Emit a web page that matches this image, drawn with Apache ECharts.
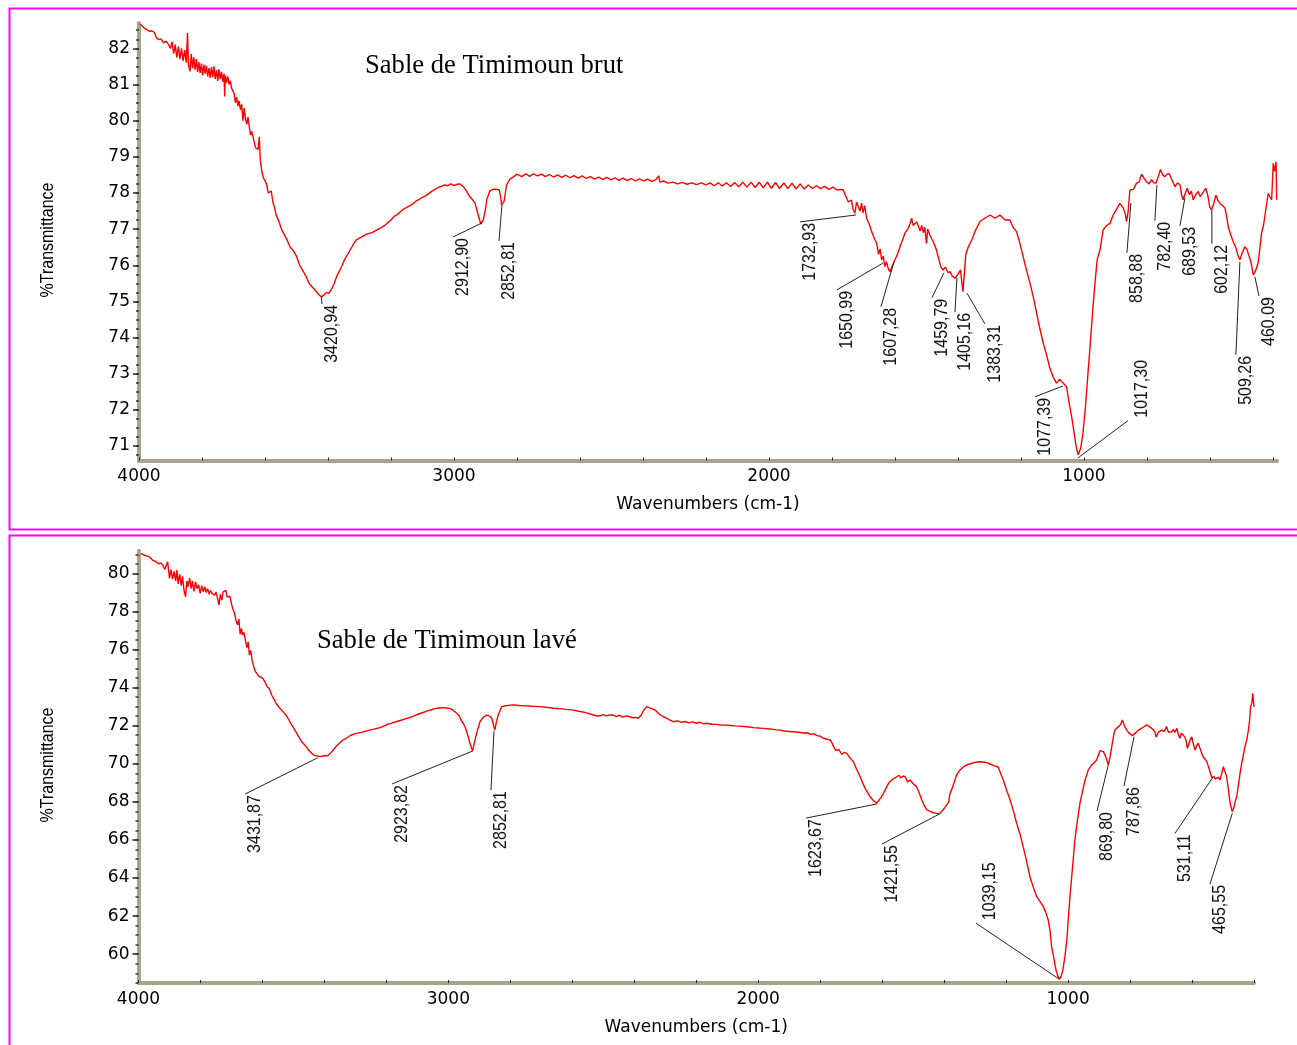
<!DOCTYPE html>
<html>
<head>
<meta charset="utf-8">
<script src="https://cdn.jsdelivr.net/npm/echarts@6/dist/echarts.min.js"></script>
<style>
html,body{margin:0;padding:0;background:#fff;}
#chart{width:1297px;height:1045px;}
</style>
</head>
<body>
<div id="chart"></div>
<script>
// ---------------- DATA ----------------
const xTickLabels = [1000, 2000, 3000, 4000];
const yTickLabelsTop = [71, 72, 73, 74, 75, 76, 77, 78, 79, 80, 81, 82];
const yTickLabelsBottom = [60, 62, 64, 66, 68, 70, 72, 74, 76, 78, 80];

// Sable de Timimoun brut : [wavenumber, %T]
const topSpectrum = [
[3997,82.67],[3990,82.62],[3982,82.55],[3975,82.52],[3968,82.47],[3960,82.48],[3952,82.45],[3945,82.30],[3938,82.24],[3930,82.26],[3922,82.15],[3914,82.20],[3906,82.10],[3900,82.00],
[3895,82.18],[3890,81.85],[3885,82.10],[3880,81.75],[3875,82.05],[3870,81.70],[3865,82.00],[3860,81.65],[3855,81.95],[3850,81.60],[3846,82.42],[3843,81.55],[3838,81.36],[3834,81.85],[3830,81.45],[3826,81.75],[3822,81.40],[3818,81.70],[3814,81.35],[3810,81.62],[3806,81.32],[3802,81.58],[3798,81.25],[3794,81.55],[3790,81.30],[3786,81.52],[3782,81.22],[3778,81.45],[3774,81.18],[3770,81.48],[3766,81.20],[3762,81.50],[3758,81.15],[3754,81.40],[3750,81.10],[3746,81.42],[3742,81.15],[3738,81.35],[3734,81.08],[3730,81.30],[3728,80.67],[3726,81.25],[3722,81.05],[3718,81.22],[3714,81.00],[3710,81.10],[3706,80.90],[3702,80.95],[3698,80.75],[3694,80.50],[3690,80.65],[3686,80.40],[3682,80.55],[3678,80.30],[3674,80.45],[3670,80.00],[3666,80.35],[3662,80.05],[3658,79.90],[3654,80.10],[3650,79.85],[3646,79.60],[3642,79.70],[3638,79.55],[3634,79.40],[3630,79.25],[3626,79.30],[3622,79.20],[3618,79.55],[3615,78.90],[3610,78.60],[3605,78.42],[3600,78.45],[3595,78.25],[3590,78.00],[3585,77.95],[3580,78.05],[3575,77.75],[3570,77.60],[3565,77.40],[3560,77.42],[3555,77.20],[3550,77.05],[3545,76.95],[3540,76.90],[3530,76.70],[3520,76.50],[3510,76.40],[3500,76.25],[3490,76.00],[3480,75.85],[3470,75.70],[3460,75.50],[3450,75.40],[3440,75.30],[3430,75.20],[3421,75.12],[3412,75.18],[3405,75.25],[3398,75.22],[3389,75.33],[3380,75.50],[3372,75.70],[3363,75.85],[3355,76.00],[3345,76.20],[3336,76.32],[3328,76.45],[3318,76.60],[3310,76.70],[3300,76.75],[3290,76.80],[3280,76.85],[3270,76.88],[3260,76.90],[3250,76.95],[3240,77.00],[3230,77.05],[3220,77.10],[3210,77.18],[3200,77.25],[3190,77.35],[3180,77.40],[3170,77.48],[3160,77.55],[3150,77.60],[3140,77.65],[3130,77.70],[3120,77.78],[3110,77.82],[3100,77.88],[3090,77.92],[3080,77.98],[3070,78.05],[3060,78.10],[3050,78.15],[3040,78.18],[3030,78.22],[3020,78.20],[3010,78.25],[3000,78.20],[2990,78.24],[2980,78.25],[2970,78.17],[2960,78.05],[2950,77.90],[2940,77.80],[2933,77.71],[2923,77.39],[2915,77.14],[2907,77.25],[2900,77.55],[2896,77.81],[2886,78.06],[2875,78.10],[2864,78.10],[2856,78.08],[2851,77.85],[2849,77.67],[2845,77.70],[2841,77.76],[2833,78.22],[2822,78.38],[2810,78.45],[2800,78.52],
[2796,78.52],[2785,78.45],[2772,78.53],[2760,78.46],[2748,78.53],[2735,78.47],[2722,78.52],[2710,78.45],[2697,78.51],[2684,78.44],[2671,78.50],[2658,78.43],[2645,78.49],[2632,78.42],[2619,78.48],[2606,78.41],[2593,78.47],[2580,78.40],[2567,78.45],[2554,78.38],[2541,78.44],[2528,78.37],[2515,78.43],[2502,78.36],[2489,78.42],[2476,78.35],[2463,78.41],[2450,78.34],[2437,78.40],[2424,78.33],[2411,78.39],[2398,78.33],[2385,78.38],[2372,78.32],[2359,78.37],[2350,78.47],[2346,78.30],[2335,78.33],[2320,78.27],[2305,78.30],[2290,78.25],[2275,78.29],[2260,78.24],[2245,78.28],[2230,78.23],[2215,78.28],[2200,78.22],[2187,78.28],[2174,78.20],[2161,78.28],[2148,78.19],[2135,78.28],[2122,78.18],[2109,78.29],[2096,78.17],[2083,78.30],[2070,78.16],[2057,78.30],[2044,78.15],[2031,78.30],[2018,78.14],[2005,78.30],[1992,78.13],[1979,78.29],[1966,78.12],[1953,78.28],[1940,78.12],[1927,78.27],[1914,78.11],[1901,78.25],[1888,78.11],[1875,78.22],[1862,78.12],[1849,78.20],[1836,78.12],[1823,78.18],[1810,78.10],[1797,78.16],[1784,78.08],[1772,78.10],
[1764,78.08],[1758,77.95],[1753,77.90],[1748,77.75],[1743,77.71],[1738,77.80],[1733,77.55],[1727,77.44],[1722,77.75],[1716,77.71],[1711,77.50],[1706,77.72],[1701,77.45],[1696,77.65],[1690,77.30],[1685,77.30],[1680,77.10],[1674,76.93],[1668,76.80],[1663,76.70],[1658,76.61],[1652,76.30],[1647,76.45],[1642,76.15],[1637,76.25],[1632,75.96],[1627,76.10],[1621,75.90],[1616,75.82],[1610,75.95],[1605,75.95],[1600,76.15],[1592,76.30],[1584,76.51],[1576,76.70],[1568,76.89],[1558,77.02],[1552,77.15],[1547,77.30],[1542,77.10],[1536,77.07],[1531,77.20],[1526,77.16],[1520,76.95],[1515,77.10],[1510,76.90],[1505,77.05],[1500,76.60],[1496,77.00],[1490,76.85],[1484,76.84],[1476,76.60],[1468,76.42],[1460,76.15],[1454,75.95],[1447,75.87],[1440,75.95],[1432,75.80],[1425,75.82],[1418,75.70],[1409,75.64],[1400,75.75],[1392,75.87],[1386,75.82],[1384,75.27],[1380,75.30],[1375,76.30],[1367,76.51],[1356,76.70],[1345,76.95],[1330,77.21],[1315,77.30],[1298,77.39],[1282,77.30],[1267,77.39],[1250,77.25],[1235,77.25],[1225,77.05],[1214,76.93],[1203,76.60],[1193,76.24],[1182,75.85],[1171,75.50],[1160,75.10],[1150,74.67],[1140,74.25],[1129,73.84],[1118,73.50],[1108,73.15],[1097,72.90],[1087,72.74],[1077,72.85],[1071,72.83],[1064,72.72],[1055,72.64],[1047,72.20],[1039,71.81],[1030,71.30],[1024,70.95],[1018,70.76],[1010,70.95],[1003,71.36],[995,72.10],[988,72.92],[980,73.80],[972,74.76],[965,75.50],[958,76.15],[949,76.42],[939,76.98],[928,77.10],[917,77.16],[907,77.39],[896,77.55],[886,77.71],[875,77.58],[868,77.40],[865,77.21],[860,77.45],[854,78.08],[843,78.10],[833,78.27],[825,78.30],[817,78.52],[809,78.40],[801,78.31],[793,78.25],[785,78.37],[778,78.28],[771,78.27],[764,78.45],[757,78.65],[750,78.50],[743,78.45],[736,78.52],[729,78.53],[720,78.35],[711,78.17],[703,78.28],[695,78.22],[690,77.95],[685,77.81],[678,78.00],[672,78.13],[665,77.95],[659,78.05],[653,77.81],[645,77.95],[637,78.04],[631,77.90],[626,77.90],[619,78.05],[613,78.13],[606,77.90],[600,77.60],[595,77.53],[588,77.70],[581,77.94],[575,77.80],[568,77.71],[560,77.65],[552,77.58],[546,77.30],[542,77.07],[534,76.85],[526,76.65],[518,76.50],[512,76.30],[505,76.15],[497,76.35],[489,76.51],[483,76.45],[478,76.42],[470,76.10],[462,75.73],[455,75.85],[447,76.06],[441,76.50],[436,76.89],[430,77.10],[425,77.39],[420,77.70],[415,77.99],[410,77.90],[404,77.81],[399,78.82],[394,78.60],[390,78.86],[388,77.81]
];

// Sable de Timimoun lavé : [wavenumber, %T]
const bottomSpectrum = [
[3992,81.05],[3980,80.95],[3965,80.87],[3955,80.70],[3943,80.61],[3935,80.50],[3928,80.55],[3922,80.44],[3915,80.20],[3910,80.45],[3906,80.61],[3900,79.74],
[3895,80.20],[3890,79.70],[3885,80.10],[3880,79.60],[3876,80.17],[3872,79.45],[3867,79.95],[3862,79.35],[3858,79.85],[3853,79.10],[3848,78.77],[3844,79.60],[3840,79.30],[3835,79.75],[3830,79.20],[3826,79.60],[3821,79.05],[3816,79.56],[3811,79.20],[3806,79.40],[3801,78.95],[3796,79.35],[3791,79.03],[3786,79.30],[3782,79.00],[3777,79.20],[3772,78.90],[3768,79.10],[3763,78.95],[3759,79.05],[3754,78.86],[3750,79.02],[3745,78.70],[3740,78.34],[3736,78.90],[3731,78.60],[3727,79.03],[3723,78.95],[3718,79.10],[3714,78.75],[3710,78.69],[3705,78.80],[3700,78.40],[3696,78.16],[3690,77.90],[3685,77.50],[3680,77.29],[3676,77.60],[3672,76.80],[3668,77.10],[3664,76.76],[3660,76.90],[3655,76.50],[3650,76.10],[3646,76.40],[3642,75.71],[3638,75.95],[3633,75.40],[3628,75.10],[3623,74.85],[3618,74.95],[3612,74.60],[3606,74.55],[3599,74.49],[3592,74.30],[3585,74.05],[3578,73.96],[3570,73.60],[3563,73.40],[3556,73.18],[3548,73.00],[3540,72.85],[3532,72.70],[3524,72.56],[3516,72.35],[3508,72.10],[3500,71.90],[3492,71.68],[3484,71.45],[3475,71.20],[3467,71.05],[3459,70.90],[3450,70.70],[3441,70.55],[3433,70.45],[3427,70.40],[3415,70.38],[3400,70.42],[3389,70.42],[3378,70.60],[3370,70.75],[3363,70.90],[3350,71.10],[3340,71.25],[3330,71.34],[3315,71.50],[3298,71.60],[3280,71.65],[3265,71.72],[3255,71.77],[3240,71.82],[3225,71.88],[3212,71.95],[3200,72.05],[3185,72.12],[3169,72.21],[3150,72.30],[3140,72.36],[3126,72.42],[3110,72.52],[3100,72.60],[3083,72.68],[3070,72.77],[3055,72.84],[3040,72.91],[3030,72.93],[3018,72.95],[3005,72.93],[2995,72.91],[2986,72.83],[2973,72.65],[2965,72.52],[2959,72.30],[2952,72.13],[2944,71.85],[2936,71.42],[2929,71.00],[2922,70.69],[2916,71.10],[2909,71.60],[2898,72.21],[2887,72.45],[2876,72.56],[2866,72.50],[2860,72.39],[2854,72.00],[2850,71.77],[2845,72.20],[2839,72.56],[2828,73.00],[2815,73.05],[2800,73.08],[2790,73.09],[2770,73.06],[2750,73.04],[2730,73.02],[2704,73.00],[2680,72.96],[2660,72.92],[2640,72.90],[2620,72.86],[2597,72.82],[2580,72.76],[2560,72.70],[2540,72.60],[2521,72.51],[2510,72.52],[2500,72.58],[2490,72.52],[2480,72.56],[2468,72.56],[2458,72.48],[2448,72.55],[2438,72.45],[2428,72.52],[2414,72.47],[2405,72.42],[2396,72.44],[2387,72.39],[2378,72.55],[2370,72.80],[2360,73.00],[2352,72.95],[2343,72.90],[2333,72.82],[2322,72.65],[2314,72.55],[2306,72.47],[2296,72.40],[2286,72.30],[2274,72.21],[2260,72.25],[2248,72.18],[2236,72.22],[2224,72.15],[2212,72.20],[2200,72.13],[2188,72.18],[2176,72.10],[2166,72.13],[2150,72.08],[2135,72.07],[2120,72.04],[2105,72.03],[2090,72.01],[2075,71.99],[2059,71.98],[2045,71.96],[2030,71.93],[2015,71.90],[2000,71.88],[1985,71.86],[1970,71.84],[1951,71.81],[1940,71.78],[1930,71.77],[1915,71.72],[1900,71.70],[1885,71.68],[1870,71.66],[1855,71.62],[1843,71.63],[1830,71.55],[1820,71.57],[1810,71.48],[1800,71.45],[1790,71.34],[1780,71.30],[1768,71.25],[1762,71.10],[1755,70.85],[1750,70.70],[1747,70.64],[1740,70.75],[1730,70.50],[1722,70.60],[1714,70.55],[1706,70.35],[1700,70.25],[1693,70.11],[1682,69.70],[1671,69.32],[1663,69.00],[1655,68.71],[1647,68.50],[1639,68.27],[1630,68.10],[1625,68.00],[1618,67.93],[1610,68.10],[1603,68.25],[1596,68.45],[1588,68.70],[1582,68.90],[1575,69.06],[1565,69.20],[1553,69.32],[1545,69.40],[1540,69.25],[1532,69.36],[1525,69.30],[1518,69.05],[1510,69.15],[1500,68.95],[1489,68.80],[1480,68.45],[1472,68.10],[1464,67.80],[1456,67.58],[1445,67.50],[1435,67.43],[1425,67.40],[1416,67.37],[1405,67.55],[1398,67.70],[1392,67.84],[1385,68.00],[1382,68.40],[1376,68.63],[1368,69.00],[1360,69.41],[1350,69.65],[1338,69.85],[1325,69.95],[1311,70.03],[1298,70.08],[1284,70.11],[1270,70.08],[1260,70.05],[1252,69.99],[1240,69.90],[1225,69.82],[1218,69.50],[1209,69.15],[1198,68.60],[1187,68.10],[1176,67.50],[1166,66.88],[1155,66.30],[1145,65.65],[1134,64.90],[1123,64.07],[1112,63.50],[1101,63.02],[1090,62.75],[1080,62.50],[1072,62.20],[1064,61.80],[1058,61.20],[1053,60.40],[1046,59.80],[1039,59.17],[1033,58.85],[1028,58.69],[1022,58.85],[1017,59.17],[1010,59.90],[1004,60.76],[999,61.90],[994,63.02],[986,64.50],[978,66.00],[970,67.00],[961,68.00],[956,68.36],[950,68.80],[945,69.15],[935,69.67],[924,69.94],[916,70.05],[908,70.20],[902,70.45],[897,70.69],[892,70.66],[886,70.64],[878,70.35],[870,69.94],[864,70.40],[859,70.90],[854,71.40],[849,71.77],[843,71.85],[838,71.95],[831,72.05],[825,72.30],[818,72.00],[811,71.77],[805,71.65],[799,71.55],[793,71.48],[787,71.42],[780,71.65],[773,71.77],[765,71.85],[758,71.92],[752,72.00],[746,72.04],[740,71.98],[733,71.90],[726,71.80],[720,71.68],[716,71.40],[714,71.42],[709,71.65],[703,71.55],[698,71.77],[690,71.70],[682,71.95],[676,71.65],[671,71.75],[666,71.68],[660,71.80],[655,71.65],[649,71.86],[644,71.55],[639,71.34],[634,71.60],[628,71.60],[623,71.40],[619,71.20],[615,70.81],[609,71.10],[605,71.30],[601,71.42],[596,71.05],[590,70.72],[585,70.95],[580,71.08],[575,70.85],[570,70.60],[564,70.37],[558,70.30],[552,70.10],[547,70.03],[542,69.60],[536,69.24],[530,69.35],[525,69.20],[520,69.24],[515,69.30],[510,69.15],[504,69.50],[499,69.85],[494,69.60],[488,69.32],[483,68.70],[477,67.93],[472,67.60],[470,67.49],[465,67.70],[461,68.00],[456,68.27],[450,68.90],[445,69.50],[440,70.00],[435,70.40],[429,70.90],[423,71.30],[418,71.77],[414,72.30],[411,72.99],[407,73.20],[404,73.70],[402,73.70],[400,72.99]
];

// Peak annotations: text, peak point [wn, %T], leader-line end [wn, %T], text side ('t' text below end, 'b' text above end)
const topPeakText = ['3420,94','2912,90','2852,81','1732,93','1650,99','1607,28','1459,79','1405,16','1383,31','1077,39','1017,30','858,88','782,40','689,53','602,12','509,26','460.09'];
const topPeakPoint = [[3420.6,75.12],[2911.1,77.17],[2847.6,77.67],[1723.8,77.39],[1638.1,76.06],[1603.2,76.09],[1444.4,75.79],[1403.2,75.65],[1371.4,75.23],[1066.7,72.66],[1019.0,70.67],[850.8,77.72],[768.3,78.22],[679.4,77.86],[593.7,77.53],[504.8,76.09],[457.1,75.68]];
const topLabelEnd = [[3419.0,74.93],[3003.2,76.78],[2857.1,76.67],[1901.6,77.20],[1784.1,75.32],[1644.4,74.85],[1482.5,75.10],[1409.5,74.71],[1314.3,74.38],[1155.6,72.36],[860.3,71.70],[863.5,76.34],[774.6,77.23],[695.2,77.09],[593.7,76.59],[517.5,73.52],[444.4,75.15]];
const topLabelSide = ['t','t','t','t','t','t','t','t','t','t','b','t','t','t','t','t','t'];

const bottomPeakText = ['3431,87','2923,82','2852,81','1623,67','1421,55','1039,15','869,80','787,86','531,11','465,55'];
const bottomPeakPoint = [[3421.4,70.32],[2918.9,70.69],[2852.7,71.72],[1617.6,67.89],[1415.6,67.36],[1028.3,58.69],[870.2,69.94],[787.2,71.42],[536.5,69.20],[470.0,67.40]];
const bottomLabelEnd = [[3656.3,68.41],[3181.9,68.94],[2862.4,68.62],[1845.8,67.15],[1600.5,65.79],[1297.2,61.63],[906.7,67.52],[819.5,68.83],[654.9,66.35],[542.0,63.69]];
const bottomLabelSide = ['t','t','t','t','t','b','t','t','t','t'];

// ---------------- CHART ----------------
const AXIS_COLOR = '#a8a38a';
const TICK_FONT = 'DejaVu Sans';
function range(a, b, step) { const r = []; for (let v = a; v <= b + 1e-9; v += step) r.push(+v.toFixed(4)); return r; }
const xTicks = range(400, 4000, 200);
const yMinorTop = range(70.75, 82.5, 0.25);
const yMinorBottom = range(58.5, 81, 0.5);

function xAxisDef(grid, min) {
  return {
    type: 'value', gridIndex: grid, min: min, max: 4000, inverse: true, position: 'bottom',
    axisLine: { show: true, lineStyle: { color: AXIS_COLOR, width: 4 } },
    axisTick: { show: true, customValues: xTicks, inside: true, length: 3, lineStyle: { color: '#222', width: 1 } },
    axisLabel: { customValues: xTickLabels, formatter: v => String(v), fontFamily: TICK_FONT, fontSize: 17, color: '#000', margin: 8 },
    splitLine: { show: false },
    name: 'Wavenumbers (cm-1)', nameLocation: 'middle', nameGap: 36,
    nameTextStyle: { fontFamily: TICK_FONT, fontSize: 17, color: '#000' }
  };
}
function yAxisMajor(grid, min, max, majors) {
  return {
    type: 'value', gridIndex: grid, min: min, max: max, position: 'left', offset: 0,
    axisLine: { show: true, lineStyle: { color: AXIS_COLOR, width: 4 } },
    axisTick: { show: true, customValues: majors, length: 6, lineStyle: { color: '#222', width: 1.5 } },
    axisLabel: { customValues: majors, formatter: v => String(v), fontFamily: TICK_FONT, fontSize: 17, color: '#000', margin: 9 },
    splitLine: { show: false }
  };
}
function yAxisMinor(grid, min, max, minors) {
  return {
    type: 'value', gridIndex: grid, min: min, max: max, position: 'left', offset: 0,
    axisLine: { show: false },
    axisTick: { show: true, customValues: minors, length: 3, lineStyle: { color: '#333', width: 1.5 } },
    axisLabel: { show: false },
    splitLine: { show: false }
  };
}

function labelRenderer(texts, sides) {
  return function (params, api) {
    const i = params.dataIndex;
    const p = api.coord([api.value(0), api.value(1)]);
    const e = api.coord([api.value(2), api.value(3)]);
    const below = sides[i] === 't';
    return {
      type: 'group',
      children: [
        { type: 'line', shape: { x1: p[0], y1: p[1], x2: e[0], y2: e[1] }, style: { stroke: '#222', lineWidth: 1 } },
        { type: 'text', x: below ? e[0] + 1 : e[0] + 5, y: below ? e[1] + 1 : e[1] - 3,
          rotation: Math.PI / 2, scaleY: 1.15,
          style: { text: texts[i], font: '16px "Liberation Sans", Arial, sans-serif', fill: '#111',
                   align: below ? 'right' : 'left', verticalAlign: 'top' } }
      ]
    };
  };
}

const chart = echarts.init(document.getElementById('chart'), null, { renderer: 'canvas' });
chart.setOption({
  animation: false,
  backgroundColor: '#ffffff',
  grid: [
    { left: 139, top: 23, width: 1138, height: 437.5 },
    { left: 138.5, top: 550.7, width: 1115.5, height: 432.3 }
  ],
  xAxis: [xAxisDef(0, 387), xAxisDef(1, 400)],
  yAxis: [
    yAxisMajor(0, 70.6, 82.7, yTickLabelsTop),
    yAxisMinor(0, 70.6, 82.7, yMinorTop),
    yAxisMajor(1, 58.49, 81.19, yTickLabelsBottom),
    yAxisMinor(1, 58.49, 81.19, yMinorBottom)
  ],
  graphic: [
    { type: 'rect', shape: { x: 9.5, y: 8.5, width: 1300, height: 521 }, style: { fill: 'none', stroke: '#ff00ff', lineWidth: 2 }, z: 0 },
    { type: 'rect', shape: { x: 9.5, y: 535.5, width: 1300, height: 520 }, style: { fill: 'none', stroke: '#ff00ff', lineWidth: 2 }, z: 0 },
    { type: 'text', x: 365, y: 66, style: { text: 'Sable de Timimoun brut', font: '26.6px "Liberation Serif", "Times New Roman", serif', fill: '#000', verticalAlign: 'middle' } },
    { type: 'text', x: 317, y: 641, style: { text: 'Sable de Timimoun lavé', font: '26.6px "Liberation Serif", "Times New Roman", serif', fill: '#000', verticalAlign: 'middle' } },
    { type: 'text', x: 48, y: 240, rotation: Math.PI / 2, scaleY: 1.2, style: { text: '%Transmittance', font: '16px "Liberation Sans", Arial, sans-serif', fill: '#000', align: 'center', verticalAlign: 'middle' } },
    { type: 'text', x: 48, y: 765, rotation: Math.PI / 2, scaleY: 1.2, style: { text: '%Transmittance', font: '16px "Liberation Sans", Arial, sans-serif', fill: '#000', align: 'center', verticalAlign: 'middle' } }
  ],
  series: [
    { type: 'line', xAxisIndex: 0, yAxisIndex: 0, data: topSpectrum, showSymbol: false, symbol: 'none',
      lineStyle: { color: '#ff0000', width: 1.4 }, z: 3 },
    { type: 'line', xAxisIndex: 1, yAxisIndex: 2, data: bottomSpectrum, showSymbol: false, symbol: 'none',
      lineStyle: { color: '#ff0000', width: 1.4 }, z: 3 },
    { type: 'custom', xAxisIndex: 0, yAxisIndex: 0, silent: true, z: 4,
      data: topPeakPoint.map((p, i) => [p[0], p[1], topLabelEnd[i][0], topLabelEnd[i][1]]),
      encode: { x: [0, 2], y: [1, 3] },
      renderItem: labelRenderer(topPeakText, topLabelSide) },
    { type: 'custom', xAxisIndex: 1, yAxisIndex: 2, silent: true, z: 4,
      data: bottomPeakPoint.map((p, i) => [p[0], p[1], bottomLabelEnd[i][0], bottomLabelEnd[i][1]]),
      encode: { x: [0, 2], y: [1, 3] },
      renderItem: labelRenderer(bottomPeakText, bottomLabelSide) }
  ]
});
</script>
</body>
</html>
